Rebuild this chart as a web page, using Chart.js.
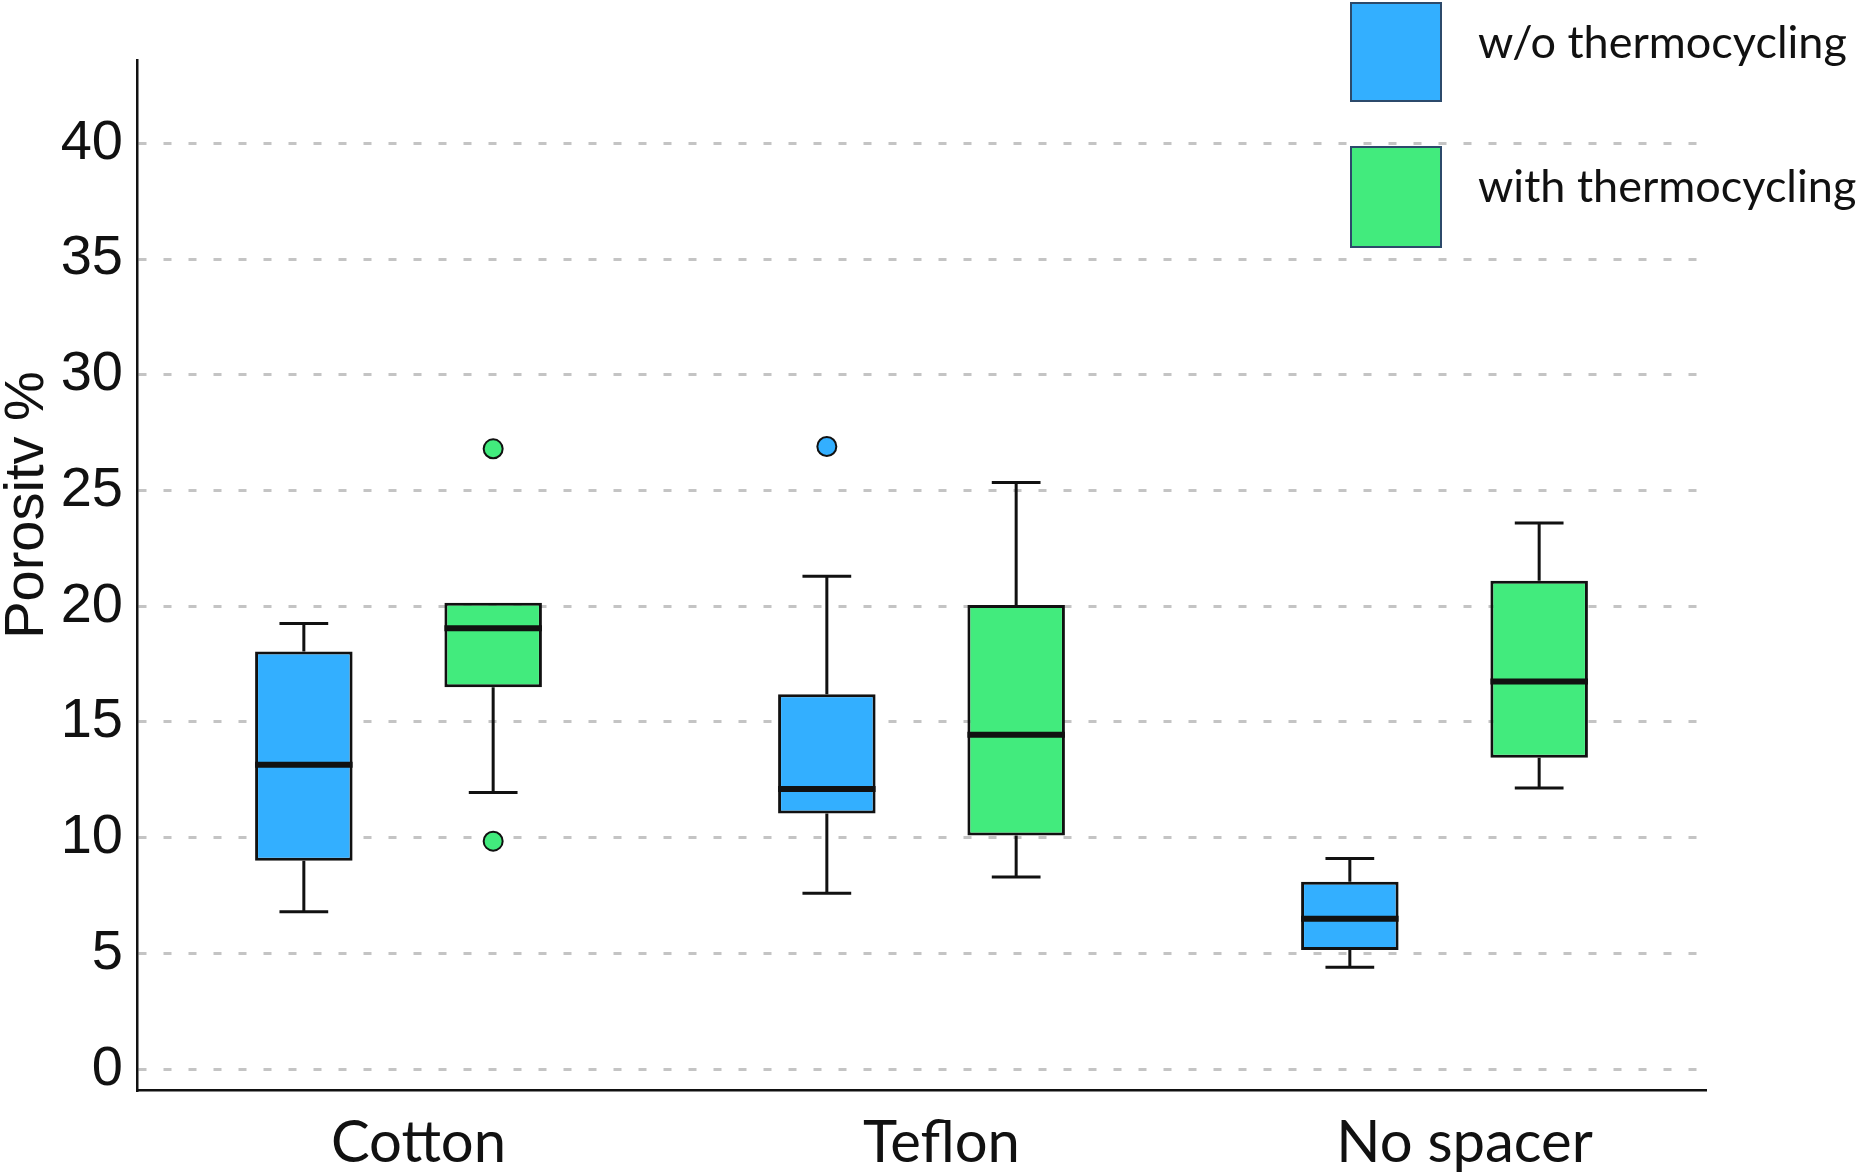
<!DOCTYPE html>
<html>
<head>
<meta charset="utf-8">
<script src="https://cdn.jsdelivr.net/npm/chart.js@4.4.1/dist/chart.umd.min.js"></script>
<style>
  body { margin: 0; background: #fff; }
  #wrap { position: relative; width: 1866px; height: 1176px; }
  .key { position: absolute; left: 1350px; width: 88px; border: 2px solid #2c4a6b; }
  .keytxt { position: absolute; left: 1478px; font: 45px Lato, sans-serif; color: #111; line-height: 1; white-space: nowrap; }
</style>
</head>
<body>
<div id="wrap">
  <canvas id="c" width="1866" height="1176"></canvas>
  <div class="key" style="top:2px;height:96px;background:#33afff"></div>
  <div class="keytxt" style="top:19px">w/o thermocycling</div>
  <div class="key" style="top:146px;height:98px;background:#42eb7d"></div>
  <div class="keytxt" style="top:163px">with thermocycling</div>
</div>
<script>
// Data
const CATEGORIES = ["Cotton", "Teflon", "No spacer"];
const SERIES = ["w/o thermocycling", "with thermocycling"];
const Y_TICKS = [0, 5, 10, 15, 20, 25, 30, 35, 40];

// w/o thermocycling
const woMin    = [6.8, 7.6, 4.4];
const woQ1     = [9.0, 11.05, 5.15];
const woMedian = [13.15, 12.1, 6.5];
const woQ3     = [18.05, 16.2, 8.1];
const woMax    = [19.25, 21.3, 9.1];
const woOutliers = [[], [26.9], []];

// with thermocycling
const wMin    = [11.95, 8.3, 12.15];
const wQ1     = [16.5, 10.1, 13.45];
const wMedian = [19.05, 14.45, 16.75];
const wQ3     = [20.15, 20.05, 21.1];
const wMax    = [20.15, 25.35, 23.6];
const wOutliers = [[26.8, 9.85], [], []];

const BLUE = "#33afff";
const GREEN = "#42eb7d";

const STATS = [
  {min: woMin, q1: woQ1, med: woMedian, q3: woQ3, max: woMax, out: woOutliers},
  {min: wMin, q1: wQ1, med: wMedian, q3: wQ3, max: wMax, out: wOutliers}
];

// whiskers, medians and outliers on top of the floating bars
const boxPlugin = {
  id: "boxes",
  afterDatasetsDraw(chart) {
    const ctx = chart.ctx;
    const ys = chart.scales.y;
    chart.data.datasets.forEach((ds, di) => {
      const s = STATS[di];
      chart.getDatasetMeta(di).data.forEach((bar, i) => {
        const x = bar.x, w = bar.width, cap = w / 2;
        ctx.save();
        ctx.strokeStyle = "#111";
        ctx.lineWidth = 3;
        const pq1 = ys.getPixelForValue(s.q1[i]);
        const pq3 = ys.getPixelForValue(s.q3[i]);
        const pmin = ys.getPixelForValue(s.min[i]);
        const pmax = ys.getPixelForValue(s.max[i]);
        ctx.beginPath();
        if (s.max[i] > s.q3[i]) {
          ctx.moveTo(x, pq3); ctx.lineTo(x, pmax);
          ctx.moveTo(x - cap / 2, pmax); ctx.lineTo(x + cap / 2, pmax);
        }
        if (s.min[i] < s.q1[i]) {
          ctx.moveTo(x, pq1); ctx.lineTo(x, pmin);
          ctx.moveTo(x - cap / 2, pmin); ctx.lineTo(x + cap / 2, pmin);
        }
        ctx.stroke();
        // median
        const pm = ys.getPixelForValue(s.med[i]);
        ctx.lineWidth = 6;
        ctx.beginPath();
        ctx.moveTo(x - w / 2, pm); ctx.lineTo(x + w / 2, pm);
        ctx.stroke();
        // outliers
        ctx.lineWidth = 2;
        ctx.fillStyle = ds.backgroundColor;
        s.out[i].forEach(v => {
          ctx.beginPath();
          ctx.arc(x, ys.getPixelForValue(v), 9.5, 0, Math.PI * 2);
          ctx.fill(); ctx.stroke();
        });
        ctx.restore();
      });
    });
  }
};

new Chart(document.getElementById("c"), {
  type: "bar",
  data: {
    labels: CATEGORIES,
    datasets: [
      {label: SERIES[0], data: woQ1.map((q, i) => [q, woQ3[i]]), backgroundColor: BLUE},
      {label: SERIES[1], data: wQ1.map((q, i) => [q, wQ3[i]]), backgroundColor: GREEN}
    ].map(d => Object.assign(d, {
      borderColor: "#111", borderWidth: 3, borderSkipped: false,
      categoryPercentage: 0.724, barPercentage: 0.515
    }))
  },
  options: {
    responsive: false,
    animation: false,
    devicePixelRatio: 1,
    layout: {padding: {top: 60, right: 160, left: 0, bottom: 0}},
    plugins: {legend: {display: false}, tooltip: {enabled: false}},
    scales: {
      x: {
        grid: {display: false, drawTicks: false},
        border: {color: "#111", width: 2.5},
        ticks: {color: "#111", font: {family: "Lato", size: 58}, padding: 18, labelOffset: 20},
        afterFit: s => { s.height = 86; }
      },
      y: {
        min: -0.9, max: 43.6,
        afterBuildTicks: a => { a.ticks = Y_TICKS.map(v => ({value: v})); },
        grid: {color: "#c4c4c4", lineWidth: 3, drawTicks: false},
        border: {color: "#111", width: 2.5, dash: [8, 17]},
        ticks: {color: "#111", font: {family: "Liberation Sans", size: 56}, padding: 14},
        title: {
          display: true, text: "         Porositv %", color: "#111",
          font: {family: "Liberation Sans", size: 56, lineHeight: 1}, padding: 0
        },
        afterFit: s => { s.width = 137; }
      }
    }
  },
  plugins: [boxPlugin]
});
</script>
</body>
</html>
